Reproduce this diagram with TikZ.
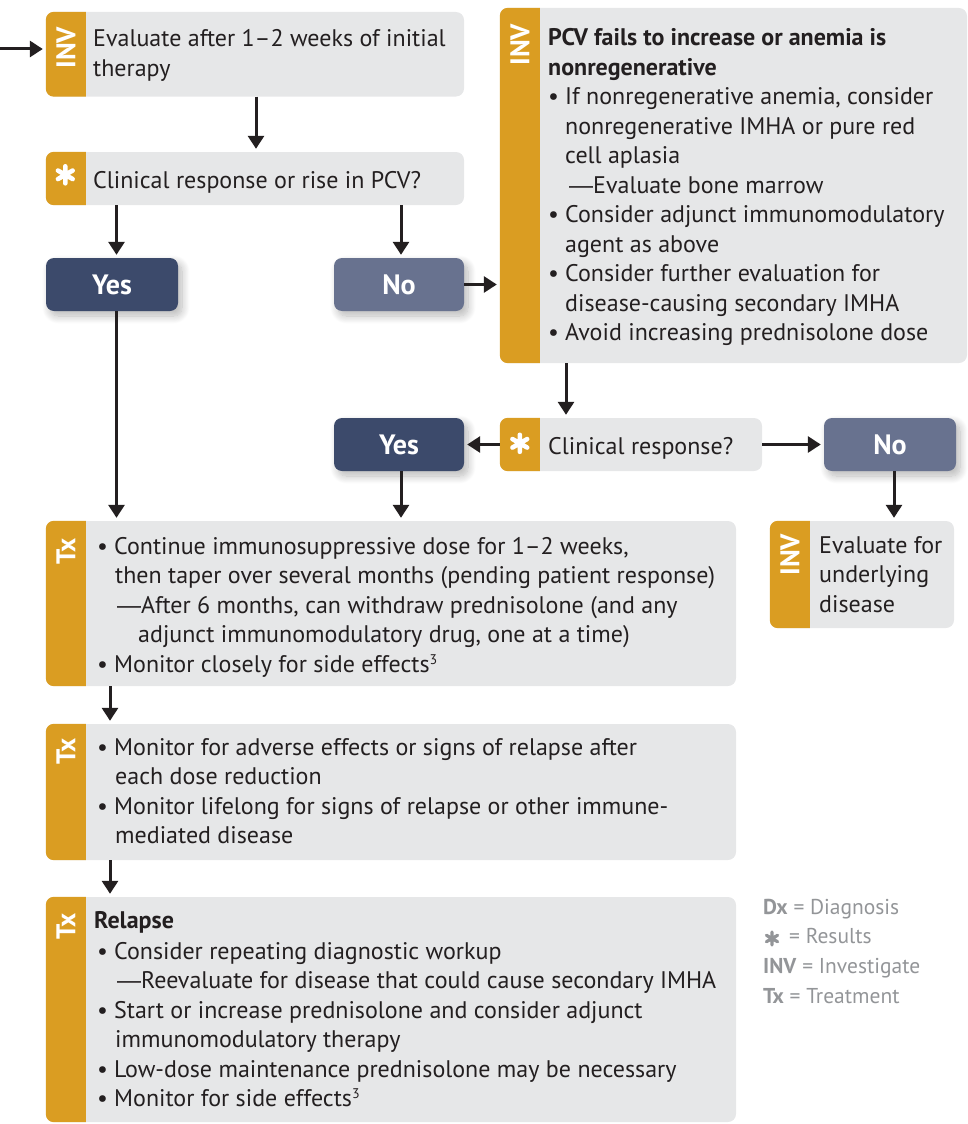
\documentclass[tikz,border=0pt]{standalone}
\usepackage{fontspec}
\setmainfont{PT Sans}
\newfontfamily\dashfont{Liberation Sans}
\usetikzlibrary{arrows.meta,fit,shadows.blur,calc}
\definecolor{txtc}{HTML}{231F20}
\definecolor{boxg}{HTML}{E6E7E8}
\definecolor{gold}{HTML}{DA9D22}
\definecolor{navy}{HTML}{3C4A6B}
\definecolor{slate}{HTML}{68728F}
\definecolor{legc}{HTML}{939598}
\newcommand{\bul}{\makebox[17pt][l]{\textbullet}}
\newcommand{\ind}{\hspace*{17pt}}
\newcommand{\emd}{{\dashfont —}}
\newcommand{\supthree}{\raisebox{8pt}{\fontsize{14}{14}\selectfont 3}}
\newcommand{\stripbox}[5]{%
  \node[box, fit={(#2,#3)(#4,#5)}] (#1) {};
  \begin{scope}
    \clip (#1.north west) rectangle ([xshift=40pt]#1.south west);
    \fill[gold, rounded corners=8pt] (#1.north west) rectangle (#1.south east);
  \end{scope}}
\newcommand{\astr}[3]{% center name, radius, colour
  \draw[#3, line width=4.6pt, line cap=round]
    ($(#1)+(90:#2)$) -- ($(#1)+(270:#2)$)
    ($(#1)+(30:#2)$) -- ($(#1)+(210:#2)$)
    ($(#1)+(150:#2)$) -- ($(#1)+(330:#2)$);}
\tikzset{
  box/.style={fill=boxg, rounded corners=8pt, inner sep=0pt, draw=none},
  btn/.style={rounded corners=8pt, inner sep=0pt, draw=none,
    blur shadow={shadow blur steps=12, shadow xshift=4pt, shadow yshift=-5pt, shadow opacity=28, shadow blur extra rounding=6pt, shadow blur radius=8pt}},
  btnlbl/.style={text=white, font=\fontsize{28}{30}\selectfont\bfseries, inner sep=0pt},
  striplbl/.style={text=white, rotate=90, font=\fontsize{27}{30}\selectfont\bfseries, inner sep=0pt},
  body/.style={anchor=north west, inner sep=0pt, align=left, text=txtc,
    font=\fontsize{24}{29.5}\selectfont},
  legend/.style={anchor=north west, inner sep=0pt, align=left, text=legc,
    font=\fontsize{21.5}{29.6}\selectfont},
  arr/.style={draw=txtc, line width=3pt, -{Triangle[width=16pt,length=13pt]}, shorten >=3pt}
}
\begin{document}
\begin{tikzpicture}[x=1pt,y=-1pt]
\useasboundingbox (0,0) rectangle (968,1124);
% boxes
\stripbox{A}{46}{12}{464}{96.5}
\stripbox{B}{46}{152}{464}{205}
\stripbox{C}{500}{8}{967}{363}
\stripbox{D}{500}{418}{762}{471}
\stripbox{E}{770}{521}{954}{628}
\stripbox{F}{46}{521}{736}{686}
\stripbox{G}{46}{724}{736}{860}
\stripbox{H}{46}{897}{736}{1122}
% buttons
\node[btn, fill=navy, fit={(46,258)(178,311)}] (Y1) {};
\node[btn, fill=slate, fit={(334,258)(464,311)}] (N1) {};
\node[btn, fill=navy, fit={(334,418)(464,471)}] (Y2) {};
\node[btn, fill=slate, fit={(824,418)(956,471)}] (N2) {};
\node[btnlbl] (Y1t) at (Y1) {Yes};
\node[btnlbl] (N1t) at (N1) {No};
\node[btnlbl] (Y2t) at (Y2) {Yes};
\node[btnlbl] (N2t) at (N2) {No};
% strip labels
\node[striplbl] (Al) at ([xshift=20pt,yshift=-36pt]A.north west) {INV};
\node[striplbl] (Cl) at ([xshift=20pt,yshift=-37pt]C.north west) {INV};
\node[striplbl] (El) at ([xshift=20pt,yshift=-34pt]E.north west) {INV};
\node[striplbl] (Fl) at ([xshift=20pt,yshift=-31pt]F.north west) {Tx};
\node[striplbl] (Gl) at ([xshift=20pt,yshift=-28pt]G.north west) {Tx};
\node[striplbl] (Hl) at ([xshift=20pt,yshift=-30pt]H.north west) {Tx};
\coordinate (Bs) at ([xshift=19.5pt,yshift=-23pt]B.north west);
\coordinate (Ds) at ([xshift=20pt,yshift=-25.5pt]D.north west);
\astr{Bs}{8.5pt}{white}
\astr{Ds}{8.5pt}{white}
% texts
\node[body] (At) at (93,25.85) {\strut Evaluate after 1–2 weeks of initial\\therapy};
\node[body] (Bt) at (93,167.35) {\strut Clinical response or rise in PCV?};
\node[body] (Ct) at (548,24.85) {\strut\textbf{PCV fails to increase or anemia is}\\
\textbf{nonregenerative}\\
\bul If nonregenerative anemia, consider\\
\ind nonregenerative IMHA or pure red\\
\ind cell aplasia\\
\hspace*{21pt}\emd Evaluate bone marrow\\
\bul Consider adjunct immunomodulatory\\
\ind agent as above\\
\bul Consider further evaluation for\\
\ind disease-causing secondary IMHA\\
\bul Avoid increasing prednisolone dose};
\node[body] (Dt) at (548,433.35) {\strut Clinical response?};
\node[body] (Et) at (819,532.35) {\strut Evaluate for\\underlying\\disease};
\node[body] (Ft) at (97,533.35) {\strut\bul Continue immunosuppressive dose for 1–2 weeks,\\
\hspace*{18pt}then taper over several months (pending patient response)\\
\hspace*{20pt}\emd After 6 months, can withdraw prednisolone (and any\\
\hspace*{41pt}adjunct immunomodulatory drug, one at a time)\\
\bul Monitor closely for side effects\supthree};
\node[body] (Gt) at (97,734.35) {\strut\bul Monitor for adverse effects or signs of relapse after\\
\hspace*{18pt}each dose reduction\\
\bul Monitor lifelong for signs of relapse or other immune-\\
\hspace*{18pt}mediated disease};
\node[body] (Ht) at (94,907.35) {\strut\textbf{Relapse}\\[1.5pt]
\hspace*{3pt}\bul Consider repeating diagnostic workup\\
\hspace*{23pt}\emd Reevaluate for disease that could cause secondary IMHA\\
\hspace*{3pt}\bul Start or increase prednisolone and consider adjunct\\
\hspace*{21pt}immunomodulatory therapy\\
\hspace*{3pt}\bul Low-dose maintenance prednisolone may be necessary\\
\hspace*{3pt}\bul Monitor for side effects\supthree};
% legend
\node[legend] (Lg) at (763,893.3) {\strut\textbf{Dx} = Diagnosis\\
\hspace*{26pt}= Results\\
\textbf{INV} = Investigate\\
\textbf{Tx} = Treatment};
\coordinate (Ls) at (772,938.5);
\draw[legc, line width=3.2pt, line cap=round]
    ($(Ls)+(90:6.5pt)$) -- ($(Ls)+(270:6.5pt)$)
    ($(Ls)+(30:6.5pt)$) -- ($(Ls)+(210:6.5pt)$)
    ($(Ls)+(150:6.5pt)$) -- ($(Ls)+(330:6.5pt)$);
% connectors
\coordinate (in) at (0,49);
\coordinate (xa) at (256,0);
\coordinate (xy1) at (116.5,0);
\coordinate (xn1) at (401,0);
\coordinate (xc) at (566,0);
\coordinate (xn2) at (894,0);
\coordinate (xf) at (110,0);
\draw[arr] (in) -- (in -| A.west);
\draw[arr] (A.south -| xa) -- (B.north -| xa);
\draw[arr] (B.south -| xy1) -- (Y1.north -| xy1);
\draw[arr] (B.south -| xn1) -- (N1.north -| xn1);
\draw[arr] (N1.east) -- (N1.east -| C.west);
\draw[arr] (Y1.south -| xy1) -- (F.north -| xy1);
\draw[arr] (C.south -| xc) -- (D.north -| xc);
\draw[arr] (D.west) -- (Y2.east);
\draw[arr] (D.east) -- (N2.west);
\draw[arr] (Y2.south -| xn1) -- (F.north -| xn1);
\draw[arr] (N2.south -| xn2) -- (E.north -| xn2);
\draw[arr] (F.south -| xf) -- (G.north -| xf);
\draw[arr] (G.south -| xf) -- (H.north -| xf);
\end{tikzpicture}
\end{document}
